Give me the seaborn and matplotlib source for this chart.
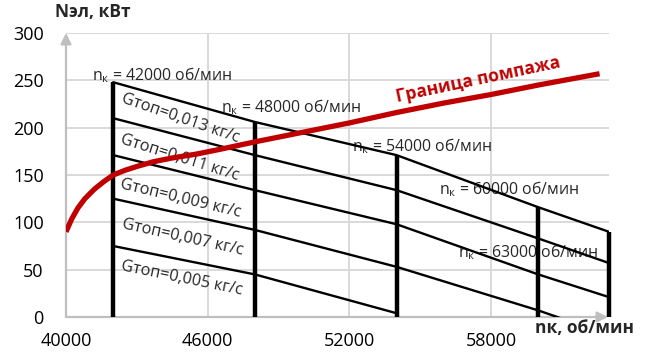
import numpy as np
import pandas as pd
import matplotlib
matplotlib.use("Agg")
import matplotlib.pyplot as plt
import seaborn as sns

# Compressor speed points where the fuel-flow curves are evaluated
speeds = [42000, 48000, 54000, 60000, 63000]
speed_labels = ["42000", "48000", "54000", "60000", "63000"]

# Electric power, kW, for each fuel flow (кг/с)
fuel_flows = ["0,013", "0,011", "0,009", "0,007", "0,005"]
power_g013 = [248, 206, 171, 116, 90]
power_g011 = [210, 171, 134, 83, 57]
power_g009 = [171, 134, 98, 45, 21]
power_g007 = [125, 92, 53, 7, -19]
power_g005 = [75, 45, 4, np.nan, np.nan]

# Surge boundary
surge_speed = [40000, 40250, 40500, 40800, 41200, 41600, 42000, 42500,
               43000, 43700, 44500, 45500, 46500, 48000, 50000, 52000,
               54000, 56000, 58000, 60000, 62600]
surge_power = [90, 104, 115, 125, 135, 143, 150, 155,
               159, 164, 168, 172, 177, 185, 195, 205,
               216, 226, 235, 245, 257]

x_ticks = [40000, 46000, 52000, 58000]
y_ticks = [0, 50, 100, 150, 200, 250, 300]

sns.set_style("white")
plt.rcParams["font.family"] = ["Open Sans", "DejaVu Sans"]
plt.rcParams["mathtext.fontset"] = "custom"
plt.rcParams["mathtext.rm"] = "Open Sans"

series = [power_g013, power_g011, power_g009, power_g007, power_g005]
df = pd.DataFrame({
    "speed": [s for _ in fuel_flows for s in speeds],
    "power": [v for vals in series for v in vals],
    "flow": [g for g in fuel_flows for _ in speeds],
})
surge = pd.DataFrame({"speed": surge_speed, "power": surge_power})

W, H = 653, 358
fig = plt.figure(figsize=(W / 100, H / 100), dpi=100)
ax = fig.add_axes([66 / W, 1 - 317 / H, (609 - 66) / W, (317 - 33) / H])

ax.set_xlim(40000, 63000)
ax.set_ylim(0, 300)
ax.set_xticks(x_ticks)
ax.set_yticks(y_ticks)
ax.set_xticklabels([str(v) for v in x_ticks])
ax.set_yticklabels([str(v) for v in y_ticks])
ax.tick_params(axis="both", length=0, labelsize=13, colors="#000000")
ax.tick_params(axis="x", pad=11)
ax.tick_params(axis="y", pad=16)
ax.grid(True, color="#D9D9D9", lw=1.4, zorder=0)
ax.set_axisbelow(True)
for sp in ax.spines.values():
    sp.set_visible(False)

# axis arrows
arrow_kw = dict(arrowstyle="-|>", color="#BFBFBF", lw=1.6, mutation_scale=16,
                shrinkA=0, shrinkB=0)
ax.annotate("", xy=(0, 1.0), xytext=(0, 0), xycoords="axes fraction",
            textcoords="axes fraction", arrowprops=arrow_kw, zorder=1,
            annotation_clip=False)
ax.annotate("", xy=(0.998, 0), xytext=(0, 0), xycoords="axes fraction",
            textcoords="axes fraction", arrowprops=arrow_kw, zorder=1,
            annotation_clip=False)

# fuel-flow curves
sns.lineplot(data=df, x="speed", y="power", hue="flow",
             palette={g: "black" for g in fuel_flows}, estimator=None,
             sort=False, legend=False, lw=1.7, ax=ax, zorder=3)

# constant-speed lines
ax.vlines(speeds, 0, power_g013, color="black", lw=3.2, zorder=4,
          clip_on=False)

# surge boundary
sns.lineplot(data=surge, x="speed", y="power", color="#C00000", lw=3.8,
             sort=False, estimator=None, ax=ax, zorder=5)
ax.lines[-1].set_solid_joinstyle("round")
ax.lines[-1].set_solid_capstyle("butt")

ax.set_xlabel("")
ax.set_ylabel("")

# constant-speed labels
nk_pos = [(41100, 256), (46570, 222), (52110, 180), (55800, 135), (56600, 68)]
for (x, y), lab in zip(nk_pos, speed_labels):
    ax.text(x, y, r"n$_{\mathregular{к}}$ = " + lab + " об/мин", fontsize=11.4,
            ha="left", va="center", zorder=2)

# fuel-flow labels
g_pos = [(44830, 210), (44830, 168), (44870, 125), (44950, 84), (44910, 41)]
g_rot = [-19, -17.5, -13.5, -12.5, -11.5]
for (x, y), r, g in zip(g_pos, g_rot, fuel_flows):
    ax.text(x, y, "Gтоп=" + g + " кг/с", fontsize=11.7, rotation=r,
            rotation_mode="anchor", ha="center", va="center", zorder=2)

ax.text(57450, 251, "Граница помпажа", fontsize=12.6, fontweight="bold",
        color="#C00000", rotation=12, rotation_mode="anchor",
        ha="center", va="center", zorder=6)

fig.text(55 / W, 1 - 12 / H, "Nэл, кВт", fontsize=12.5, fontweight="bold",
         ha="left", va="center")
fig.text(535 / W, 1 - 328 / H, "nк, об/мин", fontsize=12.5, fontweight="bold",
         ha="left", va="center")

fig.savefig("out.png", dpi=100)
